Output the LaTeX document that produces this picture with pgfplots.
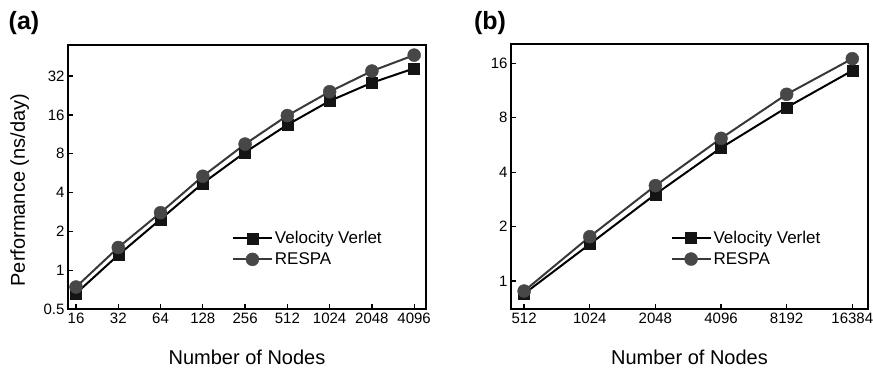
\documentclass[border=0pt]{standalone}
\usepackage{fontspec}
\setmainfont{Liberation Sans}
\usepackage{pgfplots}
\usepackage{pgfplotstable}
\pgfplotsset{compat=1.18}

\pgfplotstableread{
n vv respa
16 0.66 0.74
32 1.31 1.50
64 2.48 2.79
128 4.72 5.35
256 8.2 9.5
512 13.4 15.8
1024 20.5 24.2
2048 28.4 35.0
4096 36.7 46.5
}\dataA

\pgfplotstableread{
n vv respa
512 0.85 0.88
1024 1.60 1.76
2048 3.02 3.37
4096 5.46 6.16
8192 9.13 10.8
16384 14.6 17.0
}\dataB

\pgfplotsset{
  every axis/.append style={
    scale only axis,
    axis line style={line width=1.6pt},
    tick align=inside, tick pos=left, major tick length=5pt,
    ticklabel style={font=\fontsize{15}{16}\selectfont},
    label style={font=\fontsize{20}{22}\selectfont},
    xlabel={Number of Nodes},
    xlabel style={at={(axis description cs:0.5,-0.182)}, anchor=center},
    legend style={draw=none, fill=none, font=\fontsize{17}{19}\selectfont,
      legend cell align=left, anchor=north west, row sep=3.5pt,
      /tikz/every even column/.append style={column sep=1pt}},
  },
  every tick/.style={line width=1.3pt, black},
  longlegend/.style={legend image code/.code={\draw[mark repeat=2,mark phase=2] plot coordinates {(0pt,0pt) (19.5pt,0pt) (39pt,0pt)};}},
  vv/.style={black, line width=2pt, mark=square*, mark size=5.5pt,
    mark options={solid, fill=black!92, draw=black!92, line width=0.4pt}, longlegend},
  respa/.style={black!78, line width=2pt, mark=*, mark size=6.5pt,
    mark options={solid, fill=black!72, draw=black!72, line width=0.4pt}, longlegend},
}

\begin{document}
\begin{tikzpicture}
\useasboundingbox (0pt,0pt) rectangle (873pt,367pt);
\begin{axis}[at={(68pt,58pt)}, anchor=south west, width=358pt, height=264pt,
  xmode=log, ymode=log, log basis x=2, log basis y=2,
  xmin=14.03, xmax=4974, ymin=0.5, ymax=55.7,
  xtick={16,32,64,128,256,512,1024,2048,4096},
  xticklabels={16,32,64,128,256,512,1024,2048,4096},
  ytick={0.5,1,2,4,8,16,32},
  yticklabels={0.5,1,2,4,8,16,32},
  minor xtick={}, minor ytick={},
  ylabel={Performance (ns/day)},
  ylabel style={at={(axis description cs:-0.135,0.45)}, anchor=center},
  legend style={at={(axis description cs:0.449,0.31)}},
]
\addplot[vv] table[x=n, y=vv] {\dataA};
\addlegendentry{Velocity Verlet}
\addplot[respa] table[x=n, y=respa] {\dataA};
\addlegendentry{RESPA}
\end{axis}
\begin{axis}[at={(511pt,58pt)}, anchor=south west, width=357pt, height=265pt,
  xmode=log, ymode=log, log basis x=2, log basis y=2,
  xmin=445.7, xmax=19345, ymin=0.70, ymax=20.5,
  xtick={512,1024,2048,4096,8192,16384},
  xticklabels={512,1024,2048,4096,8192,16384},
  ytick={1,2,4,8,16},
  yticklabels={1,2,4,8,16},
  minor xtick={}, minor ytick={},
  legend style={at={(axis description cs:0.438,0.31)}},
]
\addplot[vv] table[x=n, y=vv] {\dataB};
\addlegendentry{Velocity Verlet}
\addplot[respa] table[x=n, y=respa] {\dataB};
\addlegendentry{RESPA}
\end{axis}
\node[font=\bfseries\fontsize{25}{27}\selectfont, anchor=center] at (24pt,343.5pt) {(a)};
\node[font=\bfseries\fontsize{25}{27}\selectfont, anchor=center] at (490pt,344pt) {(b)};
\end{tikzpicture}
\end{document}
